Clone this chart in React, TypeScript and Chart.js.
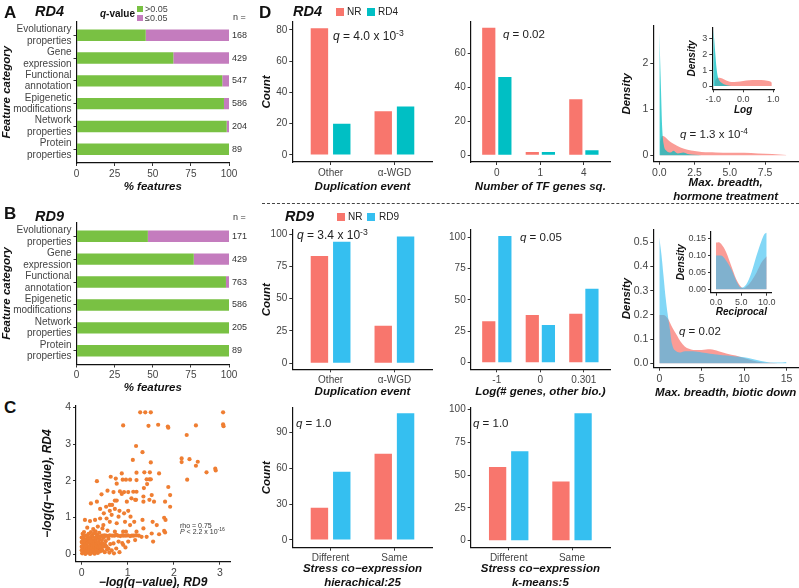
import React, { useEffect, useRef } from 'react';
import { Chart, registerables } from 'chart.js';
Chart.register(...registerables);

const FONT = '"Liberation Sans", Arial, Helvetica, sans-serif';
Chart.defaults.font.family = FONT;

const C_NR = '#F8766D';
const C_RD4 = '#00BFC4';
const C_RD9 = '#35BFF0';
const C_GREEN = '#79C143';
const C_PURPLE = '#C47CBE';
const C_ORANGE = '#EF7E32';
const A_NR = 'rgba(248,118,109,0.72)';
const A_RD4 = 'rgba(0,191,196,0.72)';
const A_RD9 = 'rgba(53,191,240,0.62)';

// ---------- Panel A / B ----------
const featureCats = [
  ['Evolutionary', 'properties'],
  ['Gene', 'expression'],
  ['Functional', 'annotation'],
  ['Epigenetic', 'modifications'],
  ['Network', 'properties'],
  ['Protein', 'properties'],
];
const rd4NotSig = [45.4, 63.5, 95.6, 96.7, 98.5, 100];
const rd4Sig = [54.6, 36.5, 4.4, 3.3, 1.5, 0];
const rd4N = [168, 429, 547, 586, 204, 89];
const rd9NotSig = [46.8, 76.9, 98.0, 100, 100, 100];
const rd9Sig = [53.2, 23.1, 2.0, 0, 0, 0];
const rd9N = [171, 429, 763, 586, 205, 89];
const pctTicks = [0, 25, 50, 75, 100];

// ---------- Panel C ----------
const cXTicks = [0, 1, 2, 3];
const cYTicks = [0, 1, 2, 3, 4];
const cPoints: [number, number][] = [
  [1.27, 3.87], [1.38, 3.87], [1.5, 3.87], [0.9, 3.51], [1.45, 3.5], [1.66, 3.53], [1.87, 3.48], [1.88, 3.45],
  [2.48, 3.51], [3.07, 3.87], [3.07, 3.54], [3.08, 3.49], [2.28, 3.25], [1.18, 2.95], [1.32, 2.78], [1.11, 2.57],
  [2.17, 2.61], [2.17, 2.51], [2.34, 2.59], [2.52, 2.52], [2.48, 2.41], [2.29, 2.03], [2.71, 2.23], [2.9, 2.33], [2.91, 2.28],
  [1.19, 2.22], [1.36, 2.23], [1.48, 2.23], [1.5, 2.5], [1.68, 2.2], [0.33, 1.99], [0.63, 2.11], [0.74, 2.06],
  [0.87, 2.2], [0.89, 2.03], [0.96, 2.03], [1.05, 2.03], [1.19, 2.02], [1.41, 2.04], [1.47, 2.04], [1.5, 2.04],
  [1.42, 1.91], [0.76, 1.92], [1.88, 1.83], [1.92, 1.61], [0.2, 1.38], [0.33, 1.43], [0.43, 1.63], [0.56, 1.73],
  [0.69, 1.69], [0.83, 1.71], [0.87, 1.64], [0.92, 1.69], [1.01, 1.69], [1.12, 1.7], [1.19, 1.7], [1.08, 1.52],
  [1.16, 1.48], [0.98, 1.43], [0.72, 1.46], [0.76, 1.46], [0.61, 1.34], [0.66, 1.34], [1.35, 1.8], [1.34, 1.57],
  [1.52, 1.61], [1.57, 1.43], [1.47, 1.48], [1.34, 1.43], [1.81, 1.43], [1.92, 1.29], [1.18, 1.48],
  [0.53, 1.29], [0.4, 1.23], [0.48, 1.11], [0.61, 1.18], [0.72, 1.23], [0.82, 1.18], [0.92, 1.11], [1.01, 1.18],
  [1.06, 1.02], [0.8, 1.02], [0.65, 1.07], [0.54, 0.97], [0.4, 0.97], [0.29, 0.93], [0.18, 0.9], [0.07, 0.93],
  [0.47, 0.79], [0.61, 0.88], [0.76, 0.84], [0.94, 0.88], [1.05, 0.79], [1.14, 0.88], [1.32, 0.93], [1.34, 0.7],
  [1.19, 0.61], [1.54, 0.88], [1.63, 0.79], [1.79, 0.99], [1.82, 0.93], [1.79, 0.63], [1.81, 0.59], [1.68, 0.54],
  [1.55, 0.34], [1.52, 0.56], [1.3, 0.47], [1.41, 0.47], [1.16, 0.38], [1.01, 0.34], [0.9, 0.25], [0.8, 0.34],
  [0.69, 0.29], [0.58, 0.15], [0.51, 0.25], [0.4, 0.13], [0.9, 0.61], [0.96, 0.61], [0.72, 0.61], [0.56, 0.64],
  [0.25, 0.68], [0.35, 0.75], [0.3, 0.62], [0.45, 0.7], [0.12, 0.72], [0.2, 0.6], [0.38, 0.58],
  [0.44, 0.5], [0.49, 0.51], [0.53, 0.5], [0.57, 0.49], [0.61, 0.51], [0.66, 0.5], [0.71, 0.5], [0.75, 0.52],
  [0.79, 0.5], [0.84, 0.49], [0.88, 0.51], [0.91, 0.5], [0.96, 0.5], [1.0, 0.51], [1.05, 0.49], [1.09, 0.5],
  [1.13, 0.5], [1.18, 0.51], [1.24, 0.5],
  [0.01, 0.02], [0.03, 0.08], [0.02, 0.15], [0.04, 0.22], [0.01, 0.3], [0.03, 0.36], [0.02, 0.44], [0.05, 0.05],
  [0.06, 0.12], [0.07, 0.19], [0.08, 0.27], [0.06, 0.33], [0.09, 0.4], [0.1, 0.03], [0.11, 0.1], [0.12, 0.17],
  [0.1, 0.24], [0.13, 0.31], [0.12, 0.38], [0.14, 0.45], [0.15, 0.06], [0.16, 0.13], [0.17, 0.2], [0.18, 0.28],
  [0.16, 0.35], [0.19, 0.42], [0.2, 0.02], [0.21, 0.09], [0.22, 0.16], [0.23, 0.23], [0.21, 0.3], [0.24, 0.37],
  [0.25, 0.05], [0.26, 0.12], [0.27, 0.19], [0.28, 0.26], [0.26, 0.33], [0.29, 0.41], [0.3, 0.08], [0.31, 0.15],
  [0.32, 0.22], [0.33, 0.29], [0.31, 0.36], [0.34, 0.44], [0.35, 0.03], [0.36, 0.11], [0.37, 0.18], [0.38, 0.25],
  [0.36, 0.32], [0.39, 0.39], [0.4, 0.07], [0.42, 0.14], [0.41, 0.21], [0.43, 0.3], [0.44, 0.38], [0.45, 0.1],
  [0.47, 0.2], [0.46, 0.28], [0.0, 0.1], [0.0, 0.2], [0.0, 0.33], [0.0, 0.45], [0.02, 0.55], [0.05, 0.6],
  [0.09, 0.5], [0.15, 0.55], [0.22, 0.5], [0.27, 0.57], [0.33, 0.52], [0.4, 0.47], [0.5, 0.05], [0.55, 0.12],
  [0.52, 0.35], [0.6, 0.04], [0.65, 0.1], [0.7, 0.02], [0.58, 0.42], [0.48, 0.45], [0.54, 0.2], [0.62, 0.27],
  [0.75, 0.15], [0.82, 0.05], [0.88, 0.3], [0.95, 0.18], [0.08, 0.0], [0.18, 0.0], [0.28, 0.01], [0.04, 0.48],
  [0.13, 0.5], [0.24, 0.47], [0.36, 0.49], [0.3, 0.45], [0.19, 0.35], [0.07, 0.38],
];

// ---------- Panel D: bars ----------
const dupCats = ['Other', 'α-WGD'];
const rd4DupNR = [81, 28];
const rd4DupRD = [20, 31];
const rd4DupTicks = [0, 20, 40, 60, 80];
const tfCats = ['0', '1', '4'];
const rd4TfNR = [75, 2, 33];
const rd4TfRD = [46, 2, 3];
const rd4TfTicks = [0, 20, 40, 60];
const rd9DupNR = [83, 29];
const rd9DupRD = [94, 98];
const rd9DupTicks = [0, 25, 50, 75, 100];
const logCats = ['-1', '0', '0.301'];
const rd9LogNR = [33, 38, 39];
const rd9LogRD = [101, 30, 59];
const rd9LogTicks = [0, 25, 50, 75, 100];
const coexCats = ['Different', 'Same'];
const hierNR = [27, 72];
const hierRD = [57, 106];
const hierTicks = [0, 30, 60, 90];
const kmNR = [56, 45];
const kmRD = [68, 97];
const kmTicks = [0, 25, 50, 75, 100];

// ---------- Panel D: densities ----------
const rd4HormX = [0, 0.1, 0.2, 0.3, 0.5, 0.8, 1.0, 1.3, 1.7, 2.0, 2.5, 3.0];
const rd4HormY = [2.68, 1.6, 0.6, 0.25, 0.1, 0.06, 0.1, 0.04, 0.06, 0.03, 0.01, 0.0];
const nrHormX = [0.05, 0.2, 0.35, 0.5, 0.75, 1.0, 1.5, 2.0, 2.5, 3.0, 3.5, 4.0, 5.0, 6.0, 7.0, 8.0, 8.5, 9.0];
const nrHormY = [0.3, 0.42, 0.41, 0.37, 0.3, 0.25, 0.17, 0.12, 0.09, 0.07, 0.065, 0.06, 0.055, 0.055, 0.04, 0.03, 0.015, 0.005];
const hormXTicks = [0, 2.5, 5, 7.5];
const hormYTicks = [0, 1, 2];

const rd4LogX = [-1.0, -0.97, -0.93, -0.9, -0.85, -0.8, -0.7, -0.6, -0.5, -0.4];
const rd4LogY = [3.6, 3.0, 2.0, 1.3, 0.6, 0.35, 0.18, 0.08, 0.03, 0.0];
const nrLogX = [-0.95, -0.9, -0.8, -0.7, -0.6, -0.5, -0.4, -0.2, 0.0, 0.2, 0.4, 0.6, 0.8, 0.9, 0.95];
const nrLogY = [0.3, 0.45, 0.52, 0.48, 0.38, 0.3, 0.26, 0.27, 0.32, 0.36, 0.38, 0.38, 0.34, 0.28, 0.2];
const logXTicks = [-1, 0, 1];
const logYTicks = [0, 1, 2, 3];

const rd9BioX = [0, 0.25, 0.5, 0.75, 1.0, 1.25, 1.5, 2.0, 2.5, 3.0, 4.0, 5.0, 6.0, 7.0, 8.0, 9.0, 10.0, 11.0, 12.0, 13.0, 14.0, 15.0];
const rd9BioY = [0.52, 0.45, 0.36, 0.27, 0.2, 0.14, 0.08, 0.05, 0.045, 0.05, 0.05, 0.045, 0.04, 0.036, 0.032, 0.028, 0.025, 0.018, 0.01, 0.004, 0.003, 0.006];
const nrBioX = [0, 0.5, 1.0, 1.5, 2.0, 2.5, 3.0, 3.5, 4.0, 5.0, 6.0, 7.0, 8.0, 9.0, 10.0, 11.0, 12.0, 13.0, 14.0];
const nrBioY = [0.2, 0.2, 0.185, 0.15, 0.12, 0.09, 0.07, 0.06, 0.055, 0.055, 0.058, 0.05, 0.04, 0.032, 0.022, 0.012, 0.005, 0.002, 0.0];
const bioXTicks = [0, 5, 10, 15];
const bioYTicks = [0, 0.1, 0.2, 0.3, 0.4, 0.5];

const rd9RecX = [0, 1, 2, 3, 4, 5, 6, 7, 8, 9, 9.5, 10];
const rd9RecY = [0.1, 0.1, 0.085, 0.06, 0.025, 0.005, 0.015, 0.05, 0.1, 0.145, 0.163, 0.168];
const nrRecX = [0, 0.5, 1, 2, 3, 4, 5, 5.5, 6, 7, 8, 9, 10];
const nrRecY = [0.139, 0.14, 0.135, 0.11, 0.07, 0.03, 0.006, 0.003, 0.008, 0.025, 0.05, 0.08, 0.098];
const recXTicks = [0, 5, 10];
const recYTicks = [0, 0.05, 0.1, 0.15];

// ---------- helpers ----------
type Box = { left: number; top: number; width: number; height: number };
type Area = { x0: number; y0: number; x1: number; y1: number };
type Fit = (s: any) => void;

type Ax = {
  min: number; max: number; ticks: number[]; fit: Fit; position: string;
  label?: (v: number) => any; title?: string | string[]; titleSize?: number;
  tickSize?: number; reverse?: boolean; stacked?: boolean;
};

function scale(a: Ax) {
  return {
    type: 'linear',
    position: a.position,
    min: a.min,
    max: a.max,
    offset: false,
    reverse: !!a.reverse,
    stacked: !!a.stacked,
    afterBuildTicks: (s: any) => { s.ticks = a.ticks.map((v) => ({ value: v })); },
    afterFit: a.fit,
    grid: { display: true, offset: false, drawOnChartArea: false, drawTicks: true, tickLength: 3, color: '#333', lineWidth: 1 },
    border: { display: true, color: '#111', width: 1.2 },
    ticks: {
      color: '#444', padding: 2, autoSkip: false, maxRotation: 0, minRotation: 0,
      font: { family: FONT, size: a.tickSize ?? 10, lineHeight: 1.15 },
      callback: (v: number) => (a.label ? a.label(v) : String(v)),
    },
    title: a.title
      ? { display: true, text: a.title, color: '#111', padding: 0, font: { family: FONT, size: a.titleSize ?? 11.5, weight: 'bold', style: 'italic', lineHeight: 1.2 } }
      : { display: false },
  };
}

function ChartCanvas({ box, area, make }: { box: Box; area: Area; make: (fx: Fit, fy: Fit) => any }) {
  const ref = useRef<HTMLCanvasElement>(null);
  useEffect(() => {
    const fx: Fit = (s) => { s.height = box.top + box.height - area.y1; };
    const fy: Fit = (s) => { s.width = area.x0 - box.left; };
    const cfg = make(fx, fy);
    cfg.options = {
      ...cfg.options,
      animation: false,
      responsive: false,
      maintainAspectRatio: false,
      events: [],
      layout: { padding: { left: 0, bottom: 0, top: area.y0 - box.top, right: box.left + box.width - area.x1 } },
      plugins: { legend: { display: false }, tooltip: { enabled: false } },
    };
    const chart = new Chart(ref.current as HTMLCanvasElement, cfg);
    return () => chart.destroy();
  }, []);
  return (
    <canvas
      ref={ref}
      width={box.width}
      height={box.height}
      style={{ position: 'absolute', left: box.left, top: box.top, width: box.width, height: box.height }}
    />
  );
}

const nLabels = (ns: number[]) => ({
  id: 'nlabels',
  afterDatasetsDraw(chart: any) {
    const { ctx, scales } = chart;
    ctx.save();
    ctx.font = `9px ${FONT}`;
    ctx.fillStyle = '#333';
    ctx.textBaseline = 'middle';
    ctx.textAlign = 'left';
    ns.forEach((n, i) => ctx.fillText(String(n), scales.x.getPixelForValue(100) + 3, scales.y.getPixelForValue(i + 1)));
    ctx.restore();
  },
});

const makeFeature = (notSig: number[], sig: number[], ns: number[]) => (fx: Fit, fy: Fit) => ({
  type: 'bar',
  data: {
    datasets: [
      { data: notSig.map((v, i) => ({ x: v, y: i + 1 })), backgroundColor: C_GREEN, categoryPercentage: 1, barPercentage: 0.5, borderWidth: 0 },
      { data: sig.map((v, i) => ({ x: v, y: i + 1 })), backgroundColor: C_PURPLE, categoryPercentage: 1, barPercentage: 0.5, borderWidth: 0 },
    ],
  },
  options: {
    indexAxis: 'y',
    scales: {
      x: scale({ min: 0, max: 100, ticks: pctTicks, fit: fx, position: 'bottom', stacked: true, title: '% features', titleSize: 11.5 }),
      y: scale({
        min: 0.4, max: featureCats.length + 0.6, ticks: featureCats.map((_, i) => i + 1), fit: fy, position: 'left',
        reverse: true, stacked: true, label: (v) => featureCats[Math.round(v) - 1] ?? '', title: 'Feature category', titleSize: 11.5,
      }),
    },
  },
  plugins: [nLabels(ns)],
});

const makeBars = (
  cats: string[], nr: number[], rd: number[], rdColor: string, yMin: number, yMax: number, yTicks: number[],
  xTitle: string | string[], yTitle?: string, catPct = 0.7, barPct = 0.78,
) => (fx: Fit, fy: Fit) => ({
  type: 'bar',
  data: {
    datasets: [
      { data: nr.map((v, i) => ({ x: i + 1, y: v })), backgroundColor: C_NR, categoryPercentage: catPct, barPercentage: barPct, borderWidth: 0 },
      { data: rd.map((v, i) => ({ x: i + 1, y: v })), backgroundColor: rdColor, categoryPercentage: catPct, barPercentage: barPct, borderWidth: 0 },
    ],
  },
  options: {
    scales: {
      x: scale({ min: 0.4, max: cats.length + 0.6, ticks: cats.map((_, i) => i + 1), fit: fx, position: 'bottom', label: (v) => cats[Math.round(v) - 1] ?? '', title: xTitle }),
      y: scale({ min: yMin, max: yMax, ticks: yTicks, fit: fy, position: 'left', title: yTitle }),
    },
  },
});

type Series = { xs: number[]; ys: number[]; color: string };
const makeDensity = (
  series: Series[], xMin: number, xMax: number, yMin: number, yMax: number, xTicks: number[], yTicks: number[],
  xFmt: (v: number) => string, yFmt: (v: number) => string, xTitle: string | string[], yTitle: string,
  tickSize: number, titleSize: number,
) => (fx: Fit, fy: Fit) => ({
  type: 'line',
  data: {
    datasets: series.map((s) => ({
      data: s.xs.map((x, i) => ({ x, y: s.ys[i] })),
      fill: 'origin',
      backgroundColor: s.color,
      borderColor: 'rgba(0,0,0,0)',
      borderWidth: 0,
      pointRadius: 0,
      cubicInterpolationMode: 'monotone',
    })),
  },
  options: {
    scales: {
      x: scale({ min: xMin, max: xMax, ticks: xTicks, fit: fx, position: 'bottom', label: xFmt, title: xTitle, tickSize, titleSize }),
      y: scale({ min: yMin, max: yMax, ticks: yTicks, fit: fy, position: 'left', label: yFmt, title: yTitle, tickSize, titleSize }),
    },
  },
});

const makeScatter = (fx: Fit, fy: Fit) => ({
  type: 'scatter',
  data: {
    datasets: [{ data: cPoints.map(([x, y]) => ({ x, y })), backgroundColor: C_ORANGE, borderWidth: 0, pointRadius: 2.1 }],
  },
  options: {
    scales: {
      x: scale({ min: -0.124, max: 3.22, ticks: cXTicks, fit: fx, position: 'bottom', title: '−log(q−value), RD9', tickSize: 10.5, titleSize: 12 }),
      y: scale({ min: -0.21, max: 4.05, ticks: cYTicks, fit: fy, position: 'left', title: '−log(q−value), RD4', tickSize: 10.5, titleSize: 12 }),
    },
  },
});

// ---------- text helpers ----------
const T = ({ x, y, s, b, i, c = '#111', children }: { x: number; y: number; s: number; b?: boolean; i?: boolean; c?: string; children: any }) => (
  <div style={{ position: 'absolute', left: x, top: y, transform: 'translateY(-50%)', fontSize: s, fontWeight: b ? 'bold' : 'normal', fontStyle: i ? 'italic' : 'normal', color: c, lineHeight: 1, whiteSpace: 'nowrap', fontFamily: FONT }}>
    {children}
  </div>
);
const Sup = ({ children }: { children: any }) => (
  <span style={{ fontSize: '0.72em', position: 'relative', top: '-0.5em' }}>{children}</span>
);
const Sq = ({ x, y, w, h, c }: { x: number; y: number; w: number; h: number; c: string }) => (
  <div style={{ position: 'absolute', left: x, top: y, width: w, height: h, background: c }} />
);

const fmt1 = (v: number) => v.toFixed(1);
const fmt2 = (v: number) => v.toFixed(2);
const fmt0 = (v: number) => String(v);

export default function App() {
  return (
    <div style={{ position: 'absolute', left: 0, top: 0, width: 799, height: 588, overflow: 'hidden', background: '#fff', fontFamily: FONT }}>
      {/* Panel A */}
      <ChartCanvas box={{ left: 0, top: 8, width: 255, height: 186 }} area={{ x0: 76.5, y0: 20, x1: 229, y1: 163 }} make={makeFeature(rd4NotSig, rd4Sig, rd4N)} />
      <T x={4} y={12} s={17} b>A</T>
      <T x={35} y={11} s={14.5} b i>RD4</T>
      <T x={100} y={14} s={10} b><i>q</i>-value</T>
      <Sq x={137} y={6} w={6} h={6} c={C_GREEN} />
      <T x={145} y={9} s={9} c="#444">&gt;0.05</T>
      <Sq x={137} y={14.5} w={6} h={6} c={C_PURPLE} />
      <T x={145} y={17.5} s={9} c="#444">≤0.05</T>
      <T x={233} y={17} s={9} c="#333">n =</T>

      {/* Panel B */}
      <ChartCanvas box={{ left: 0, top: 209, width: 255, height: 186 }} area={{ x0: 76.5, y0: 221.5, x1: 229, y1: 364.5 }} make={makeFeature(rd9NotSig, rd9Sig, rd9N)} />
      <T x={4} y={213} s={17} b>B</T>
      <T x={35} y={216} s={14.5} b i>RD9</T>
      <T x={233} y={217} s={9} c="#333">n =</T>

      {/* Panel C */}
      <ChartCanvas box={{ left: 40, top: 395, width: 200, height: 195 }} area={{ x0: 76, y0: 405.7, x1: 230, y1: 561.7 }} make={makeScatter} />
      <T x={4} y={407} s={17} b>C</T>
      <T x={180} y={525} s={7} c="#333">rho = 0.75</T>
      <T x={180} y={532} s={7} c="#333"><i>P</i> &lt; 2.2 x 10<Sup>-16</Sup></T>

      {/* Panel D row 1 */}
      <T x={259} y={12} s={17} b>D</T>
      <T x={293} y={11} s={14.5} b i>RD4</T>
      <Sq x={336} y={7.5} w={8} h={8} c={C_NR} />
      <T x={347} y={12} s={10} c="#222">NR</T>
      <Sq x={367} y={7.5} w={8} h={8} c={C_RD4} />
      <T x={378} y={12} s={10} c="#222">RD4</T>
      <ChartCanvas box={{ left: 260, top: 10, width: 178, height: 184 }} area={{ x0: 292.3, y0: 22, x1: 432.7, y1: 162 }}
        make={makeBars(dupCats, rd4DupNR, rd4DupRD, C_RD4, -4.5, 85, rd4DupTicks, 'Duplication event', 'Count')} />
      <ChartCanvas box={{ left: 440, top: 10, width: 178, height: 184 }} area={{ x0: 470.7, y0: 22, x1: 610, y1: 162 }}
        make={makeBars(tfCats, rd4TfNR, rd4TfRD, C_RD4, -3.94, 78.4, rd4TfTicks, 'Number of TF genes sq.', undefined, 0.74, 0.82)} />
      <ChartCanvas box={{ left: 620, top: 10, width: 179, height: 194 }} area={{ x0: 653.3, y0: 26, x1: 798, y1: 161.7 }}
        make={makeDensity([{ xs: rd4HormX, ys: rd4HormY, color: A_RD4 }, { xs: nrHormX, ys: nrHormY, color: A_NR }],
          -0.43, 9.83, -0.14, 2.81, hormXTicks, hormYTicks, fmt1, fmt0, ['Max. breadth,', 'hormone treatment'], 'Density', 10.5, 11.5)} />
      <ChartCanvas box={{ left: 686, top: 18, width: 100, height: 98 }} area={{ x0: 712.3, y0: 27.7, x1: 774, y1: 89.3 }}
        make={makeDensity([{ xs: rd4LogX, ys: rd4LogY, color: A_RD4 }, { xs: nrLogX, ys: nrLogY, color: A_NR }],
          -1.033, 1.023, -0.21, 3.72, logXTicks, logYTicks, fmt1, fmt0, 'Log', 'Density', 9, 10)} />
      <T x={333} y={36} s={12} c="#222"><i>q</i> = 4.0 x 10<Sup>-3</Sup></T>
      <T x={503} y={35} s={11.5} c="#222"><i>q</i> = 0.02</T>
      <T x={680} y={135} s={11.5} c="#222"><i>q</i> = 1.3 x 10<Sup>-4</Sup></T>

      {/* divider */}
      <div style={{ position: 'absolute', left: 262, top: 203, width: 537, height: 0, borderTop: '1px dashed #444' }} />

      {/* Panel D row 2 */}
      <T x={285} y={216} s={14.5} b i>RD9</T>
      <Sq x={337} y={212.5} w={8} h={8} c={C_NR} />
      <T x={348} y={217} s={10} c="#222">NR</T>
      <Sq x={367} y={212.5} w={8} h={8} c={C_RD9} />
      <T x={379} y={217} s={10} c="#222">RD9</T>
      <ChartCanvas box={{ left: 260, top: 218, width: 178, height: 181 }} area={{ x0: 292.3, y0: 230, x1: 432.7, y1: 369.3 }}
        make={makeBars(dupCats, rd9DupNR, rd9DupRD, C_RD9, -4.64, 103.1, rd9DupTicks, 'Duplication event', 'Count')} />
      <ChartCanvas box={{ left: 440, top: 218, width: 178, height: 181 }} area={{ x0: 470.7, y0: 230, x1: 610, y1: 369.3 }}
        make={makeBars(logCats, rd9LogNR, rd9LogRD, C_RD9, -5.26, 105.8, rd9LogTicks, 'Log(# genes, other bio.)', undefined, 0.74, 0.82)} />
      <ChartCanvas box={{ left: 620, top: 218, width: 179, height: 182 }} area={{ x0: 653.3, y0: 229.3, x1: 798, y1: 367.7 }}
        make={makeDensity([{ xs: rd9BioX, ys: rd9BioY, color: A_RD9 }, { xs: nrBioX, ys: nrBioY, color: A_NR }],
          -0.71, 16.36, -0.018, 0.554, bioXTicks, bioYTicks, fmt0, fmt1, 'Max. breadth, biotic down', 'Density', 10.5, 11.5)} />
      <ChartCanvas box={{ left: 675, top: 222, width: 108, height: 96 }} area={{ x0: 711, y0: 231.7, x1: 771.7, y1: 292.7 }}
        make={makeDensity([{ xs: rd9RecX, ys: rd9RecY, color: A_RD9 }, { xs: nrRecX, ys: nrRecY, color: A_NR }],
          -0.99, 10.99, -0.0101, 0.171, recXTicks, recYTicks, fmt1, fmt2, 'Reciprocal', 'Density', 9, 10)} />
      <T x={297} y={235} s={12} c="#222"><i>q</i> =  3.4 x 10<Sup>-3</Sup></T>
      <T x={520} y={238} s={11.5} c="#222"><i>q</i> = 0.05</T>
      <T x={679} y={332} s={11.5} c="#222"><i>q</i> = 0.02</T>

      {/* Panel D row 3 */}
      <ChartCanvas box={{ left: 260, top: 398, width: 178, height: 192 }} area={{ x0: 292.3, y0: 407.7, x1: 432.7, y1: 547.7 }}
        make={makeBars(coexCats, hierNR, hierRD, C_RD9, -6.44, 110.6, hierTicks, ['Stress co−expression', 'hierachical:25'], 'Count')} />
      <ChartCanvas box={{ left: 440, top: 398, width: 178, height: 192 }} area={{ x0: 470.7, y0: 407.7, x1: 610, y1: 547.3 }}
        make={makeBars(coexCats, kmNR, kmRD, C_RD9, -5.0, 101.2, kmTicks, ['Stress co−expression', 'k-means:5'])} />
      <T x={296} y={424} s={11.5} c="#222"><i>q</i> = 1.0</T>
      <T x={473} y={424} s={11.5} c="#222"><i>q</i> = 1.0</T>
    </div>
  );
}
